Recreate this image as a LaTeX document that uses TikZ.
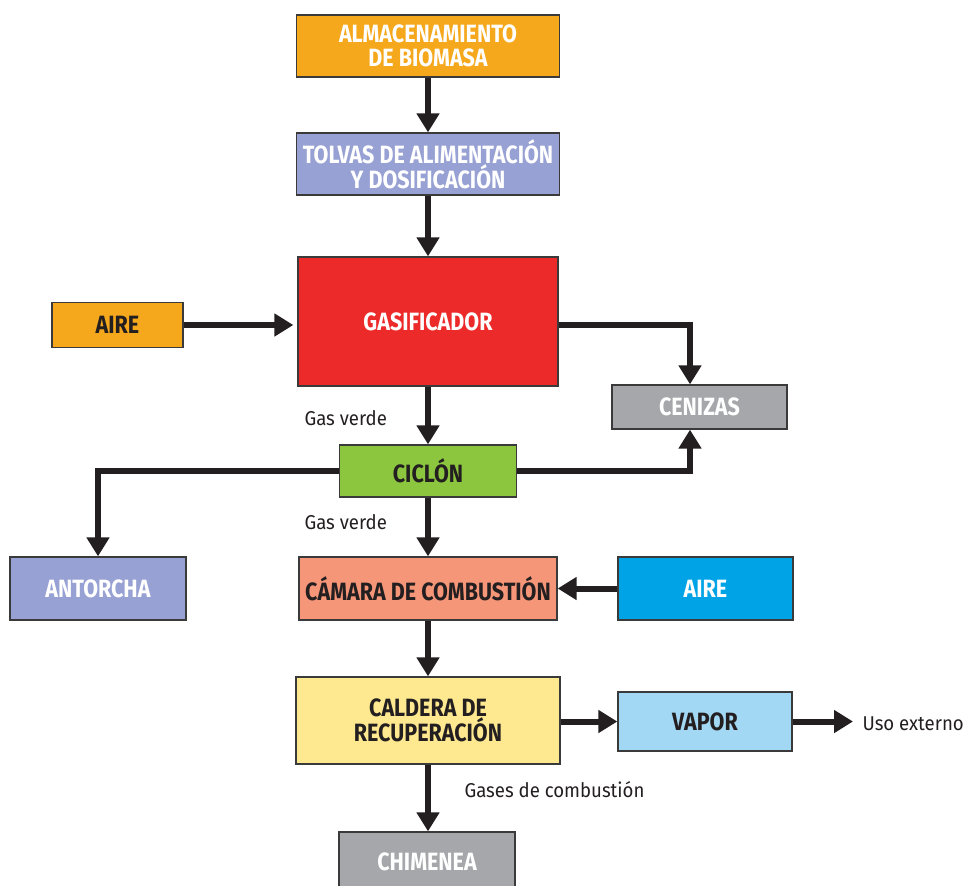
\documentclass[tikz,border=0pt]{standalone}
\usepackage{fontspec}
\setmainfont{Fira Sans}
\newfontfamily\boxfont[FakeStretch=0.86]{Fira Sans}
\newfontfamily\labelfont[FakeStretch=0.93]{Fira Sans}
\usetikzlibrary{arrows.meta}

\definecolor{cOrange}{HTML}{F6A81C}
\definecolor{cLavender}{HTML}{97A1D3}
\definecolor{cRed}{HTML}{ED2A2A}
\definecolor{cGray}{HTML}{A5A7AA}
\definecolor{cGreen}{HTML}{8CC63F}
\definecolor{cSalmon}{HTML}{F69679}
\definecolor{cBlue}{HTML}{00A3E6}
\definecolor{cYellow}{HTML}{FFE990}
\definecolor{cSky}{HTML}{A3D8F4}
\definecolor{cEdge}{HTML}{3A3A3A}
\definecolor{cInk}{HTML}{231F20}

\tikzset{
  procbox/.style={draw=cEdge, line width=1.3pt, inner sep=2pt, align=center,
    font=\boxfont\bfseries\fontsize{25}{24}\selectfont},
  light/.style={text=white},
  darkt/.style={text=cInk},
  flow/.style={draw=cInk, line width=6pt,
    -{Triangle[length=19pt,width=22pt]}},
  note/.style={text=cInk, font=\labelfont\fontsize{20}{20}\selectfont}
}

\begin{document}
\begin{tikzpicture}[x=1pt,y=-1pt]
\useasboundingbox (0,0) rectangle (964,886);

% process blocks (main column centred on x = 428)
\node[procbox, light, fill=cOrange, minimum width=263pt, minimum height=62pt]
  (alm) at (428,46) {ALMACENAMIENTO\\DE BIOMASA};
\node[procbox, light, fill=cLavender, minimum width=263pt, minimum height=62pt]
  (tol) at (428,164) {TOLVAS DE ALIMENTACIÓN\\Y DOSIFICACIÓN};
\node[procbox, light, fill=cRed, minimum width=260pt, minimum height=129pt]
  (gas) at (428,321.5) {GASIFICADOR};
\node[procbox, darkt, fill=cOrange, minimum width=131pt, minimum height=45pt]
  (aireA) at (117.5,325) {AIRE};
\node[procbox, light, fill=cGray, minimum width=175pt, minimum height=44pt]
  (cen) at (699.5,407) {CENIZAS};
\node[procbox, darkt, fill=cGreen, minimum width=177pt, minimum height=52pt]
  (cic) at (428,471) {CICLÓN};
\node[procbox, light, fill=cLavender, minimum width=176pt, minimum height=63pt]
  (ant) at (98,588.5) {ANTORCHA};
\node[procbox, darkt, fill=cSalmon, minimum width=258pt, minimum height=63pt]
  (cam) at (428,588.5) {CÁMARA DE COMBUSTIÓN};
\node[procbox, light, fill=cBlue, minimum width=175pt, minimum height=63pt]
  (aireB) at (705.5,588.5) {AIRE};
\node[procbox, darkt, fill=cYellow, minimum width=264pt, minimum height=87pt]
  (cal) at (428,720.5) {CALDERA DE\\RECUPERACIÓN};
\node[procbox, darkt, fill=cSky, minimum width=174pt, minimum height=59pt]
  (vap) at (705,721.5) {VAPOR};
\node[procbox, light, fill=cGray, minimum width=176pt, minimum height=60pt]
  (chi) at (427,862) {CHIMENEA};

% stream labels
\node[note, anchor=base west] (uso) at (859,730) {Uso externo};
\node[note, anchor=base west] (gv1) at (301,425) {Gas verde};
\node[note, anchor=base west] (gv2) at (301,529) {Gas verde};
\node[note, anchor=base west] (gc) at (461,797) {Gases de combustión};

% connection points
\coordinate (cenIn) at ([xshift=-9.5pt]cen.north);
\coordinate (cenOut) at ([xshift=-9.5pt]cen.south);
\coordinate (usoIn) at ([xshift=-6pt]uso.west);

% main line
\draw[flow] (alm.south) -- (tol.north);
\draw[flow] (tol.south) -- (gas.north);
\draw[flow] (aireA.east) -- ([xshift=-4pt]aireA.east -| gas.west);
\draw[flow] (gas.south) -- (cic.north);
\draw[flow] (cic.south) -- (cam.north);
\draw[flow] (aireB.west) -- (cam.east);
\draw[flow] (cam.south) -- (cal.north);
\draw[flow] (cal.east |- vap.west) -- (vap.west);
\draw[flow] (vap.east) -- (usoIn |- vap.east);
\draw[flow] (cal.south) -- (cal.south |- chi.north);

% side branches
\draw[flow] (gas.east |- aireA.east) -| (cenIn);
\draw[flow] (cic.east) -| (cenOut);
\draw[flow] (cic.west) -| (ant.north);
\end{tikzpicture}
\end{document}
